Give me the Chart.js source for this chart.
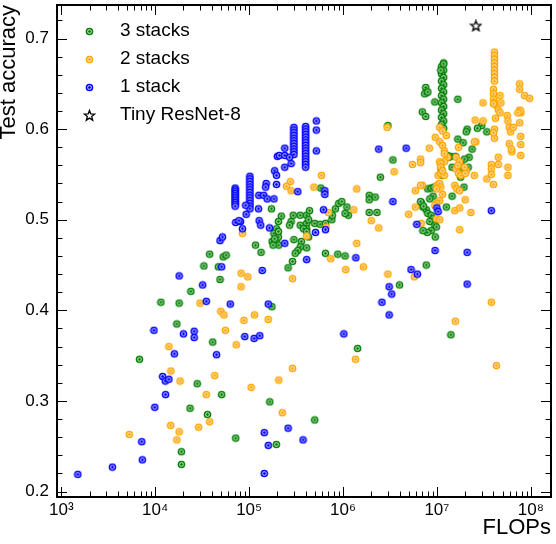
<!DOCTYPE html>
<html lang="en">
<head>
<meta charset="UTF-8">
<title>Test accuracy vs FLOPs</title>
<style>
  html, body { margin: 0; padding: 0; background: #fff; }
  #wrap { width: 556px; height: 544px; }
</style>
<script src="https://cdn.jsdelivr.net/npm/chart.js"></script>
</head>
<body>
<div id="wrap"><canvas id="chart" width="556" height="544"></canvas></div>
<script>
// ---- data ----
const seriesLabels = ['3 stacks', '2 stacks', '1 stack', 'Tiny ResNet-8'];

const stack3Flops = [
  4.9e4, 2.4e4, 1.15e4, 1.8e4, 1.7e4, 4.1e4, 6.8e3, 2.8e4, 5.1e4, 2.35e4, 3.6e4, 7.2e4, 1.9e4, 1.9e4,
  1.66e5, 1.75e5, 1.95e5, 4.0e6, 1.41e7, 1.43e6, 5.0e5, 1.73e5, 1.17e5, 1.34e5, 3.8e4, 5.3e4, 5.7e4,
  3.3e4, 4.7e4, 2.2e5, 2.05e5, 1.96e5, 1.84e5, 1.96e5, 2.05e5, 2.07e5, 1.76e5, 1.8e5, 2.05e5, 1.87e5,
  2.8e5, 2.7e5, 2.95e5, 3.5e5, 4.1e5, 4.4e5, 3.5e5, 4.1e5, 4.1e5, 4.3e5, 5.0e5, 5.7e5, 6.5e5, 7.6e5,
  7.7e5, 8.3e5, 9.0e5, 9.7e5, 1.1e6, 1.14e6, 1.05e6, 3.0e5, 3.6e5, 3.5e5, 3.3e5, 3.1e5, 4.1e5, 3.8e5,
  4.1e5, 4.3e5, 2.9e5, 2.6e5, 6.5e5, 8.8e5, 1.05e6, 2.5e6, 1.9e6, 1.9e6, 2.2e6, 1.9e6, 2.3e6, 5.8e5,
  7.7e6,
  1.18e7, 1.12e7, 1.18e7, 1.12e7, 1.18e7, 1.12e7, 1.18e7, 1.12e7, 1.18e7, 1.12e7, 1.18e7, 1.12e7,
  1.18e7, 1.12e7, 1.18e7, 1.12e7, 1.18e7, 1.12e7, 1.18e7,
  1.18e7, 1.1e7, 7.6e6, 7.7e6, 7.4e6, 8.0e6, 9.5e6, 1.67e7, 7.0e6, 7.6e6, 3.0e6, 3.0e7, 2.7e7, 3.4e7,
  2.1e7, 2.05e7, 1.67e7, 1.9e7, 2.37e7, 3.4e6, 1.4e7, 1.45e7, 2.2e7, 1.97e7, 2.15e7, 1.11e7, 1.13e7,
  1.8e7, 1.75e7, 8.0e6, 8.7e6, 9.1e6, 8.4e6, 6.8e6, 7.1e6, 7.7e6, 8.0e6, 8.7e6, 9.1e6, 8.4e6, 9.5e6,
  9.85e6, 8.7e6, 7.9e6, 7.1e6, 9.6e6, 1.26e7, 1.45e7, 1.94e7, 1.34e7, 6.7e6, 7.2e6, 9.3e6, 1.05e7,
  1.29e7, 1.58e7, 2.0e7, 1.79e7, 1.14e7
];
const stack3Acc = [
  0.434, 0.421, 0.409, 0.408, 0.385, 0.365, 0.346, 0.319, 0.307, 0.292, 0.285, 0.259, 0.244, 0.230,
  0.299, 0.404, 0.252, 0.428, 0.373, 0.358, 0.279, 0.512, 0.472, 0.464, 0.462, 0.459, 0.461,
  0.449, 0.448, 0.504, 0.498, 0.490, 0.485, 0.478, 0.481, 0.472, 0.476, 0.472, 0.487, 0.479,
  0.498, 0.494, 0.505, 0.505, 0.505, 0.510, 0.494, 0.496, 0.490, 0.500, 0.496, 0.495, 0.496, 0.500,
  0.505, 0.512, 0.518, 0.520, 0.514, 0.505, 0.507, 0.478, 0.476, 0.470, 0.466, 0.463, 0.469, 0.490,
  0.487, 0.481, 0.454, 0.447, 0.463, 0.462, 0.460, 0.547, 0.527, 0.522, 0.525, 0.508, 0.508, 0.535,
  0.450,
  0.673, 0.669, 0.665, 0.661, 0.657, 0.653, 0.649, 0.645, 0.641, 0.637, 0.633, 0.629,
  0.625, 0.621, 0.617, 0.613, 0.609, 0.605, 0.601,
  0.672, 0.665, 0.646, 0.640, 0.639, 0.641, 0.630, 0.633, 0.619, 0.614, 0.604, 0.604, 0.601, 0.597,
  0.600, 0.597, 0.589, 0.585, 0.578, 0.566, 0.570, 0.558, 0.569, 0.567, 0.558, 0.556, 0.553,
  0.562, 0.556, 0.534, 0.535, 0.526, 0.523, 0.519, 0.514, 0.511, 0.507, 0.505, 0.501, 0.498, 0.494,
  0.492, 0.488, 0.486, 0.488, 0.481, 0.514, 0.526, 0.536, 0.569, 0.520, 0.515, 0.536, 0.539,
  0.571, 0.570, 0.554, 0.547, 0.549
];

const stack2Flops = [
  8.2e4, 9.7e4, 8.2e4, 3.0e4, 5.0e4, 5.4e4, 1.14e5, 8.8e4, 1.6e5, 5.6e4, 7.3e4, 1.4e4, 1.47e4, 1.84e4,
  4.3e4, 3.5e4, 1.05e5, 2.07e5, 3.8e4, 1.46e4, 1.8e4, 1.7e4, 2.9e4, 5.3e3, 2.9e5, 3.0e6, 5.75e6,
  3.8e7, 1.57e7, 1.36e6, 2.9e5, 2.26e5, 4.3e7, 8.5e4, 2.75e5, 2.5e5, 2.8e5, 5.9e5, 4.9e5, 1.4e6,
  7.0e5, 6.6e5, 1.3e6, 4.1e5, 2.0e6, 2.4e6, 1.4e6, 7.4e5, 1.07e6, 1.65e6, 2.95e6, 3.5e6, 5.5e6,
  6.7e6, 7.0e6, 5.9e6, 5.0e6, 5.9e6, 6.8e6, 8.3e6, 1.75e7, 2.3e7, 2.0e7, 1.55e7, 1.75e7, 2.5e7,
  3.4e7, 4.0e7, 3.8e7, 3.8e7, 3.8e7, 4.5e7, 5.7e7, 4.5e7, 5.7e7, 7.8e7, 7.8e7, 7.8e7, 5.9e7, 6.3e7,
  6.2e7, 7.8e7, 7.6e7, 3.1e7, 2.55e7, 3.1e7,
  4.1e7, 4.1e7, 4.1e7, 4.1e7, 4.1e7, 4.1e7, 4.1e7, 4.1e7, 4.1e7,
  4.0e7, 4.0e7, 4.0e7, 4.1e7, 4.3e7, 4.0e7, 4.7e7, 4.8e7, 4.5e7, 4.7e7, 4.2e7, 7.6e7, 7.6e7, 8.6e7,
  9.7e7, 7.8e7, 7.3e7, 5.6e7, 5.7e7, 5.9e7, 6.1e7, 6.5e7, 7.6e7, 4.1e7, 4.1e7, 4.0e7, 2.6e7, 2.5e7,
  1.7e7, 6.7e6, 1.07e7, 1.15e7, 9.6e6, 1.07e7, 1.26e7, 1.15e7, 1.2e7, 1.3e7, 1.2e7, 1.07e7, 1.1e7,
  1.03e7, 1.1e7, 1.2e7, 1.6e7, 1.74e7, 1.6e7, 1.7e7, 1.8e7, 2.05e7, 1.1e7, 1.2e7, 1.15e7, 1.67e7,
  1.97e7, 2.0e7, 6.7e6, 1.0e7, 1.07e7, 1.1e7, 9.9e6, 1.55e7, 1.63e7, 1.74e7, 1.15e7, 1.07e7, 9.9e6,
  9.5e6, 9.9e6, 1.07e7
];
const stack2Acc = [
  0.441, 0.437, 0.426, 0.408, 0.399, 0.395, 0.395, 0.389, 0.390, 0.378, 0.362, 0.360, 0.333, 0.322,
  0.328, 0.307, 0.315, 0.323, 0.277, 0.273, 0.266, 0.257, 0.271, 0.263, 0.435, 0.440, 0.437,
  0.409, 0.388, 0.346, 0.336, 0.287, 0.339, 0.485, 0.542, 0.537, 0.532, 0.549, 0.536, 0.534,
  0.508, 0.492, 0.511, 0.482, 0.499, 0.491, 0.474, 0.457, 0.445, 0.448, 0.602, 0.553, 0.561,
  0.567, 0.538, 0.532, 0.506, 0.514, 0.496, 0.579, 0.489, 0.508, 0.522, 0.510, 0.513, 0.549,
  0.545, 0.539, 0.561, 0.556, 0.550, 0.561, 0.558, 0.569, 0.549, 0.571, 0.583, 0.592, 0.584, 0.575,
  0.578, 0.618, 0.621, 0.609, 0.610, 0.629,
  0.685, 0.681, 0.677, 0.673, 0.669, 0.665, 0.661, 0.657, 0.653,
  0.644, 0.639, 0.633, 0.629, 0.626, 0.628, 0.637, 0.629, 0.621, 0.618, 0.612, 0.650, 0.644, 0.637,
  0.634, 0.620, 0.618, 0.615, 0.609, 0.602, 0.597, 0.602, 0.607, 0.600, 0.590, 0.596, 0.586, 0.586,
  0.580, 0.563, 0.602, 0.598, 0.591, 0.586, 0.593, 0.582, 0.576, 0.569, 0.564, 0.564, 0.562,
  0.549, 0.551, 0.549, 0.569, 0.564, 0.556, 0.551, 0.549, 0.554, 0.558, 0.573, 0.554, 0.560,
  0.558, 0.551, 0.538, 0.538, 0.540, 0.536, 0.534, 0.538, 0.534, 0.532, 0.528, 0.521, 0.518,
  0.516, 0.501, 0.500
];

const stack1Flops = [
  1.8e4, 3.2e4, 3.5e4, 6.3e4, 9.7e3, 2.0e4, 2.6e4, 2.6e4, 1.6e4, 4.5e4, 9.0e4, 1.13e5, 1.3e5, 1.6e5,
  1.2e4, 1.28e4, 1.4e4, 1.29e4, 9.9e3, 7.2e3, 7.3e3, 3.5e3, 1.5e3, 1.45e5, 1.6e5, 1.45e5, 6.2e6,
  3.1e6, 3.3e6, 2.6e6, 3.1e6, 2.1e7, 1.02e6, 2.6e5, 3.75e5, 2.0e5, 1.87e5, 1.96e5, 1.96e5,
  7.1e4, 7.1e4, 7.1e4, 7.1e4, 7.1e4, 7.1e4, 7.1e4, 7.1e4, 7.1e4, 7.1e4, 7.1e4,
  1.02e5, 1.02e5, 1.02e5, 1.02e5, 1.02e5, 1.02e5, 1.02e5, 1.02e5, 1.02e5, 1.02e5, 1.02e5, 1.02e5, 1.02e5,
  1.52e5, 1.5e5, 1.27e5, 1.43e5, 1.56e5, 1.84e5, 1.26e5, 9.2e4, 9.3e4, 1.28e5, 1.33e5, 1.65e5, 8.5e4,
  8.1e4, 7.2e4, 7.8e4, 4.9e4, 5.2e4, 5.1e4, 1.38e5, 2.4e5, 2.4e5, 2.8e5, 3.3e5,
  3.0e5, 3.0e5, 3.0e5, 3.0e5, 3.0e5, 3.0e5, 3.0e5, 3.0e5, 3.0e5, 3.0e5, 3.0e5,
  4.0e5, 4.0e5, 4.0e5, 4.0e5, 4.0e5, 4.0e5, 4.0e5, 4.0e5, 4.0e5, 4.0e5, 4.0e5, 4.0e5, 4.0e5, 4.0e5,
  4.0e5, 4.0e5,
  5.2e5, 5.2e5, 5.2e5, 2.4e5, 2.1e5, 2.4e5, 2.7e5, 6.4e5, 6.4e5, 6.2e5, 6.5e5, 5.1e5, 4.1e5, 1.37e6,
  2.4e6, 4.7e6, 3.4e6, 6.1e6, 1.0e7, 1.03e7, 9.55e6, 2.1e7, 3.8e7, 5.3e6
];
const stack1Acc = [
  0.438, 0.428, 0.410, 0.407, 0.378, 0.374, 0.377, 0.370, 0.352, 0.351, 0.371, 0.369, 0.372, 0.407,
  0.327, 0.322, 0.324, 0.307, 0.293, 0.255, 0.235, 0.227, 0.219, 0.265, 0.251, 0.220, 0.440,
  0.426, 0.418, 0.409, 0.395, 0.429, 0.374, 0.270, 0.257, 0.570, 0.554, 0.549, 0.539,
  0.535, 0.533, 0.531, 0.529, 0.527, 0.525, 0.523, 0.521, 0.519, 0.517, 0.515,
  0.548, 0.545, 0.542, 0.539, 0.536, 0.533, 0.530, 0.527, 0.524, 0.521, 0.518, 0.515, 0.512,
  0.540, 0.536, 0.527, 0.527, 0.523, 0.523, 0.512, 0.516, 0.506, 0.499, 0.494, 0.491, 0.490,
  0.498, 0.497, 0.499, 0.477, 0.481, 0.448, 0.444, 0.474, 0.558, 0.562, 0.531,
  0.602, 0.599, 0.596, 0.593, 0.590, 0.587, 0.584, 0.581, 0.578, 0.575, 0.572,
  0.603, 0.600, 0.597, 0.594, 0.591, 0.588, 0.585, 0.582, 0.579, 0.576, 0.573, 0.570, 0.567, 0.564,
  0.561, 0.558,
  0.609, 0.599, 0.576, 0.579, 0.571, 0.571, 0.569, 0.532, 0.528, 0.511, 0.489, 0.486, 0.456, 0.458,
  0.578, 0.579, 0.520, 0.495, 0.513, 0.509, 0.466, 0.464, 0.510, 0.445
];

const resnetFlops = [2.6e7];
const resnetAcc = [0.714];

// axis ticks
const xMajorTicks = [1e3, 1e4, 1e5, 1e6, 1e7, 1e8];
const yMajorTicks = [0.2, 0.3, 0.4, 0.5, 0.6, 0.7];
const xRange = [900, 1.64e8];
const yRange = [0.194, 0.737];

const seriesColors = ['#008000', '#ffa500', '#0000ff', '#000000'];

// ---- marker images ----
function ringDot(color) {
  const c = document.createElement('canvas');
  c.width = 9; c.height = 9;
  const g = c.getContext('2d');
  g.fillStyle = color;
  g.beginPath(); g.arc(4.5, 4.5, 3.8, 0, Math.PI * 2); g.fill();
  g.strokeStyle = '#fff'; g.lineWidth = 0.8;
  g.beginPath(); g.arc(4.5, 4.5, 1.9, 0, Math.PI * 2); g.stroke();
  return c;
}
function openStar() {
  const c = document.createElement('canvas');
  c.width = 13; c.height = 13;
  const g = c.getContext('2d');
  g.beginPath();
  for (let i = 0; i < 10; i++) {
    const r = i % 2 ? 2.3 : 5.4;
    const a = -Math.PI / 2 + i * Math.PI / 5;
    g.lineTo(6.5 + r * Math.cos(a), 6.8 + r * Math.sin(a));
  }
  g.closePath();
  g.fillStyle = '#fff'; g.fill();
  g.strokeStyle = '#000'; g.lineWidth = 1.3; g.stroke();
  return c;
}
const markers = [ringDot(seriesColors[0]), ringDot(seriesColors[1]), ringDot(seriesColors[2]), openStar()];

const toPoints = (xs, ys) => xs.map((v, i) => ({ x: v, y: ys[i] }));
const supDigits = { 3: '\u00b3', 4: '\u2074', 5: '\u2075', 6: '\u2076', 7: '\u2077', 8: '\u2078' };
const FONT = '"Liberation Sans", Arial, Helvetica, sans-serif';

// frame with inward ticks on all four sides
const framePlugin = {
  id: 'frame',
  afterDraw(chart) {
    const { ctx, chartArea: a, scales: { x, y } } = chart;
    ctx.save();
    ctx.strokeStyle = '#000';
    ctx.lineWidth = 1;
    ctx.beginPath();
    for (let e = 2; e <= 8; e++) {
      for (let m = 1; m <= 9; m++) {
        const v = m * Math.pow(10, e);
        if (v < xRange[0] || v > xRange[1]) continue;
        const px = Math.round(x.getPixelForValue(v)) + 0.5;
        const len = m === 1 ? 10 : 5.5;
        ctx.moveTo(px, a.bottom); ctx.lineTo(px, a.bottom - len);
        ctx.moveTo(px, a.top); ctx.lineTo(px, a.top + len);
      }
    }
    for (let k = 10; k <= 36; k++) {
      const v = k / 50;
      if (v < yRange[0] || v > yRange[1]) continue;
      const py = Math.round(y.getPixelForValue(v)) + 0.5;
      const len = k % 5 === 0 ? 10 : 5.5;
      ctx.moveTo(a.left, py); ctx.lineTo(a.left + len, py);
      ctx.moveTo(a.right, py); ctx.lineTo(a.right - len, py);
    }
    ctx.stroke();
    ctx.lineWidth = 2;
    ctx.strokeRect(a.left, a.top, a.right - a.left, a.bottom - a.top);
    ctx.restore();
  }
};

// legend in the upper left corner of the plot
const legendPlugin = {
  id: 'cornerLegend',
  afterDraw(chart) {
    const { ctx, chartArea: a } = chart;
    ctx.save();
    ctx.font = '19px ' + FONT;
    ctx.fillStyle = '#000';
    ctx.textBaseline = 'middle';
    seriesLabels.forEach((label, i) => {
      const cy = a.top + 26 + i * 28;
      const img = markers[i];
      ctx.drawImage(img, Math.round(a.left + 32 - img.width / 2), Math.round(cy - img.height / 2));
      ctx.fillText(label, a.left + 63, cy);
    });
    ctx.restore();
  }
};

new Chart(document.getElementById('chart'), {
  type: 'scatter',
  data: {
    datasets: [
      { label: seriesLabels[0], data: toPoints(stack3Flops, stack3Acc), pointStyle: markers[0], order: 3 },
      { label: seriesLabels[1], data: toPoints(stack2Flops, stack2Acc), pointStyle: markers[1], order: 2 },
      { label: seriesLabels[2], data: toPoints(stack1Flops, stack1Acc), pointStyle: markers[2], order: 1 },
      { label: seriesLabels[3], data: toPoints(resnetFlops, resnetAcc), pointStyle: markers[3], order: 0 }
    ]
  },
  options: {
    responsive: false,
    animation: false,
    devicePixelRatio: 1,
    layout: { padding: { top: 2, right: 1, left: 0, bottom: 0 } },
    plugins: { legend: { display: false }, tooltip: { enabled: false } },
    scales: {
      x: {
        type: 'logarithmic',
        min: xRange[0],
        max: xRange[1],
        grid: { display: false, drawTicks: false },
        border: { display: false },
        afterBuildTicks: s => { s.ticks = xMajorTicks.map(v => ({ value: v })); },
        afterFit: s => { s.height = 47; s.paddingLeft = 0; s.paddingRight = 0; },
        ticks: {
          autoSkip: false, maxRotation: 0, padding: 3, color: '#000',
          font: { family: FONT, size: 17 },
          callback: v => '10' + supDigits[Math.round(Math.log10(v))]
        },
        title: {
          display: true, text: 'FLOPs', align: 'end', color: '#000',
          font: { family: FONT, size: 22 }, padding: { top: 0, bottom: 3 }
        }
      },
      y: {
        min: yRange[0],
        max: yRange[1],
        grid: { display: false, drawTicks: false },
        border: { display: false },
        afterBuildTicks: s => { s.ticks = yMajorTicks.map(v => ({ value: v })); },
        afterFit: s => { s.width = 57; s.paddingTop = 0; s.paddingBottom = 0; },
        ticks: {
          padding: 8, color: '#000',
          font: { family: FONT, size: 17 },
          callback: v => v.toFixed(1)
        },
        title: {
          display: true, text: 'Test accuracy', align: 'end', color: '#000',
          font: { family: FONT, size: 22, lineHeight: 1 }, padding: { top: -2, bottom: 0 }
        }
      }
    },
    elements: { point: { radius: 3.5 } }
  },
  plugins: [framePlugin, legendPlugin]
});
</script>
</body>
</html>
